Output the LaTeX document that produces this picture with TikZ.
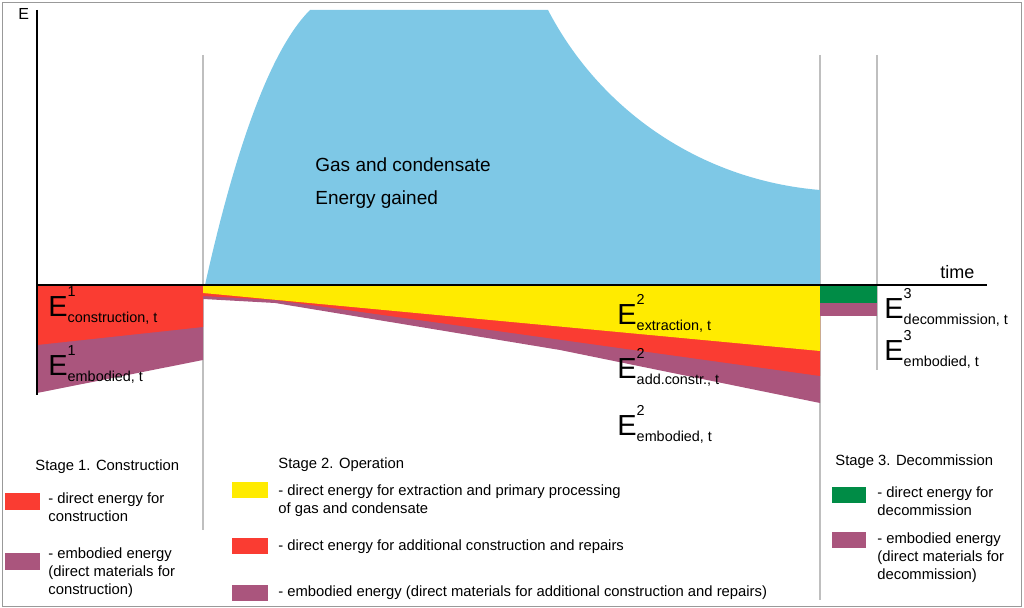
\documentclass[tikz,border=0pt]{standalone}
\usepackage{fontspec}
\setmainfont{Liberation Sans}
\definecolor{cblue}{RGB}{126,200,230}
\definecolor{cred}{RGB}{250,60,50}
\definecolor{cpur}{RGB}{170,85,125}
\definecolor{cyel}{RGB}{255,235,0}
\definecolor{cgrn}{RGB}{0,140,70}
\newcommand{\bigE}[2]{{\fontsize{14.5}{14.5}\selectfont E}{\fontsize{7.2}{7.2}\selectfont\rlap{\raisebox{10pt}{#1}}\raisebox{-3pt}{#2}}}
\tikzset{lbl/.style={anchor=base west,inner sep=0pt},
leg/.style={anchor=north west,inner sep=0pt,font=\fontsize{7.4}{9}\selectfont,align=left},
sep/.style={draw=black!25,line width=0.8pt}}
\begin{document}
\begin{tikzpicture}[x=0.5pt,y=-0.5pt]
\useasboundingbox (0,0) rectangle (1024,608);
\draw[black!40] (2,2) rectangle (1021,606);
% separators
\draw[sep] (203,55) -- (203,530);
\draw[sep] (820,55) -- (820,600);
\draw[sep] (877,55) -- (877,370);
% blue
\fill[cblue] (205,285) .. controls (235,150) and (270,50) .. (310,10) -- (548,10) .. controls (600,110) and (700,180) .. (820,190) -- (820,285) -- cycle;
% stage 1
\fill[cpur] (37,285) -- (203,285) -- (203,360) -- (37,393) -- cycle;
\fill[cred] (37,285) -- (203,285) -- (203,327) -- (37,345) -- cycle;
% stage 2
\fill[cpur] (203,285) -- (820,285) -- (820,403) -- (560,350) -- (275,303) -- (203,299) -- cycle;
\fill[cred] (203,285) -- (820,285) -- (820,376) -- (275,300) -- (203,296) -- cycle;
\fill[cyel] (203,285) -- (820,285) -- (820,351) -- (203,293) -- cycle;
% stage 3
\fill[cpur] (820,285) rectangle (877,316);
\fill[cgrn] (820,285) rectangle (877,303);
% axes
\draw[line width=1.2pt] (37,10) -- (37,395);
\draw[line width=1.2pt] (37,285) -- (987,285);
\node[lbl,font=\fontsize{8}{8}\selectfont] (E) at (18,20) {E};
\node[lbl,font=\fontsize{9}{9}\selectfont] (time) at (940,279) {time};
\node[lbl,font=\fontsize{9.5}{12}\selectfont] (g1) at (315,172) {Gas and condensate};
\node[lbl,font=\fontsize{9.5}{12}\selectfont] (g2) at (315,205) {Energy gained};
% E labels
\node[lbl] (e1) at (48,317) {\bigE{1}{construction, t}};
\node[lbl] (e2) at (48,376) {\bigE{1}{embodied, t}};
\node[lbl] (e3) at (617,325) {\bigE{2}{extraction, t}};
\node[lbl] (e4) at (617,379) {\bigE{2}{add.constr., t}};
\node[lbl] (e5) at (617,436) {\bigE{2}{embodied, t}};
\node[lbl] (e6) at (884,319) {\bigE{3}{decommission, t}};
\node[lbl] (e7) at (884,361) {\bigE{3}{embodied, t}};
% legend
\node[leg] (s1) at (35,459) {Stage 1. Construction};
\fill[cred] (5,493) rectangle (40,510);
\node[leg] (l1) at (48,492) {- direct energy for\\construction};
\fill[cpur] (5,553) rectangle (40,570);
\node[leg] (l2) at (48,547) {- embodied energy\\(direct materials for\\construction)};
\node[leg] (s2) at (278,457) {Stage 2. Operation};
\fill[cyel] (232,482) rectangle (268,498);
\node[leg] (l3) at (278,484) {- direct energy for extraction and primary processing\\of gas and condensate};
\fill[cred] (232,538) rectangle (268,554);
\node[leg] (l4) at (278,539) {- direct energy for additional construction and repairs};
\fill[cpur] (232,585) rectangle (268,601);
\node[leg] (l5) at (278,585) {- embodied energy (direct materials for additional construction and repairs)};
\node[leg] (s3) at (835,454) {Stage 3. Decommission};
\fill[cgrn] (832,487) rectangle (866,503);
\node[leg] (l6) at (877,486) {- direct energy for\\decommission};
\fill[cpur] (832,532) rectangle (866,548);
\node[leg] (l7) at (877,532) {- embodied energy\\(direct materials for\\decommission)};
\end{tikzpicture}
\end{document}
